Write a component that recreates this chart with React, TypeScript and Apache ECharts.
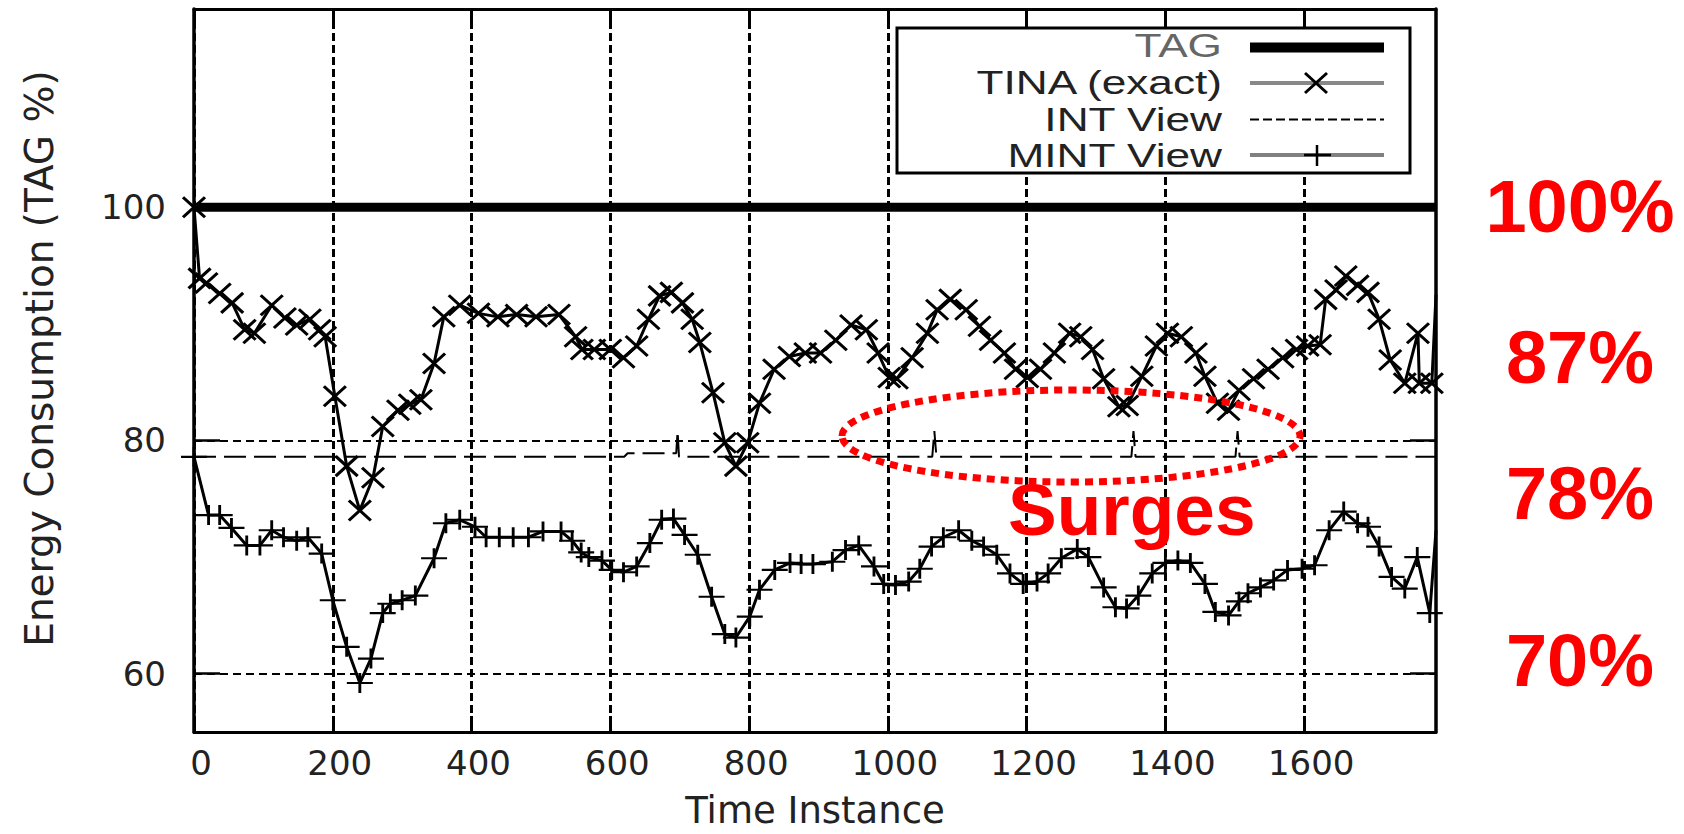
import React, { useEffect, useRef } from "react";
import * as echarts from "echarts";

const xTicks = [0, 200, 400, 600, 800, 1000, 1200, 1400, 1600];
const yTicks = [60, 80, 100];

const tagData = [[0, 100], [1790, 100]];

const tinaData: number[][] = [
  [0, 100], [8, 93.9], [18, 93.5], [37, 92.6], [55, 91.8], [73, 89.5], [87, 89.2], [112, 91.6],
  [131, 90.5], [148, 89.9], [167, 90.4], [181, 89.5], [189, 88.9], [203, 83.8], [220, 77.8],
  [239, 74.0], [258, 76.8], [272, 81.2], [294, 82.6], [311, 83.1], [327, 83.5], [346, 86.6],
  [360, 90.6], [383, 91.6], [410, 90.9], [438, 90.6], [465, 90.8], [493, 90.6], [526, 90.8],
  [550, 88.9], [559, 87.8], [577, 87.8], [600, 87.8], [619, 87.1], [638, 88.1], [655, 90.4],
  [671, 92.4], [688, 92.7], [704, 91.8], [718, 90.4], [729, 88.4], [748, 84.1], [765, 79.8],
  [781, 77.8], [798, 79.8], [815, 83.2], [836, 86.1], [858, 87.2], [881, 87.5], [903, 87.5],
  [925, 88.6], [947, 89.9], [969, 89.5], [986, 87.5], [1002, 85.4], [1013, 85.3], [1035, 87.1],
  [1057, 89.2], [1071, 91.2], [1090, 92.1], [1113, 91.2], [1132, 89.8], [1148, 88.6],
  [1168, 87.5], [1184, 86.1], [1201, 85.4], [1220, 86.1], [1240, 87.5], [1262, 89.2],
  [1278, 88.9], [1295, 87.8], [1311, 85.3], [1333, 82.9], [1345, 83.0], [1366, 85.5],
  [1387, 88.1], [1403, 89.2], [1423, 88.9], [1444, 87.5], [1457, 85.5], [1475, 83.2],
  [1491, 82.6], [1506, 84.3], [1527, 85.3], [1548, 86.1], [1569, 87.1], [1589, 87.8],
  [1605, 88.1], [1623, 88.2], [1631, 92.1], [1646, 92.9], [1660, 94.1], [1677, 93.3],
  [1692, 92.7], [1708, 90.4], [1724, 86.9], [1745, 84.9], [1764, 89.2], [1766, 84.9],
  [1784, 84.9]
];
const tinaTail = [1790, 92.5];

const intData: number[][] = [
  [0, 78.6], [620, 78.6], [625, 78.9], [695, 78.9], [697, 80.8], [699, 78.6], [1064, 78.6],
  [1067, 80.8], [1070, 78.6], [1351, 78.6], [1354, 80.8], [1357, 78.6], [1501, 78.6],
  [1504, 80.8], [1507, 78.6], [1790, 78.6]
];

const mintData: number[][] = [
  [0, 78.6], [21, 73.6], [37, 73.6], [54, 72.5], [76, 71.0], [95, 71.0], [112, 72.3], [129, 71.7],
  [148, 71.4], [164, 71.7], [184, 70.3], [200, 66.3], [220, 62.3], [239, 59.2], [255, 61.3],
  [272, 65.2], [283, 66.0], [300, 66.3], [319, 66.7], [346, 69.9], [363, 72.9], [383, 73.2],
  [405, 72.6], [421, 71.7], [440, 71.7], [460, 71.7], [482, 71.7], [503, 72.2], [529, 72.2],
  [545, 71.4], [558, 70.4], [569, 70.0], [588, 69.7], [602, 68.9], [619, 68.7], [638, 69.2],
  [657, 71.2], [674, 73.2], [691, 73.3], [707, 71.9], [726, 70.2], [746, 66.6], [765, 63.4],
  [781, 63.1], [801, 64.9], [815, 67.2], [837, 68.9], [859, 69.5], [875, 69.4], [892, 69.4],
  [920, 69.6], [939, 70.6], [958, 71.0], [980, 69.2], [994, 67.7], [1011, 67.6], [1030, 67.9],
  [1046, 69.0], [1063, 70.9], [1080, 71.7], [1102, 72.3], [1121, 71.4], [1138, 70.9],
  [1157, 70.2], [1176, 68.6], [1195, 67.7], [1215, 67.9], [1231, 68.6], [1250, 69.9],
  [1273, 70.7], [1289, 70.0], [1311, 67.4], [1328, 65.7], [1344, 65.6], [1361, 66.7],
  [1381, 68.6], [1400, 69.5], [1418, 69.7], [1436, 69.5], [1457, 67.7], [1472, 65.3],
  [1491, 65.0], [1506, 66.2], [1519, 66.9], [1537, 67.4], [1556, 68.0], [1576, 68.9],
  [1597, 69.0], [1615, 69.3], [1636, 72.3], [1657, 73.9], [1677, 72.9], [1692, 72.6],
  [1708, 70.9], [1726, 68.3], [1745, 67.3], [1763, 70.0], [1781, 65.2]
];
const mintTail = [1790, 72.3];

const legendNames = ["TAG", "TINA (exact)", "INT View", "MINT View"];
const sideLabels = ["100%", "87%", "78%", "70%"];
const annotation = "Surges";

const X_SYMBOL = "path://M0,0L10,10M10,0L0,10";
const PLUS_SYMBOL = "path://M5,0L5,10M0,5L10,5";

export default function App() {
  const ref = useRef<HTMLDivElement>(null);
  useEffect(() => {
    if (!ref.current) return;
    const chart = echarts.init(ref.current, null, { renderer: "svg" });
    const tickFont = { fontFamily: "DejaVu Sans", fontSize: 34, color: "#222" };
    const plain = (v: number) => String(v);
    const legendRows = [44.5, 82, 118.5, 154.5];
    const sideY = [206.5, 357.5, 493.5, 660];
    const graphic: any[] = [
      {
        type: "rect", z: 50, silent: true,
        shape: { x: 897, y: 28, width: 513, height: 145 },
        style: { fill: "#fff", stroke: "#000", lineWidth: 3 }
      },
      ...legendNames.map((n, i) => ({
        type: "text", z: 51, silent: true, x: 1222, y: legendRows[i], scaleX: 1.3,
        style: {
          text: n, fontFamily: "Liberation Sans", fontSize: 34,
          fill: i === 0 ? "#666" : "#222",
          align: "right", verticalAlign: "middle", textAlign: "right", textVerticalAlign: "middle"
        }
      })),
      { type: "line", z: 51, silent: true, shape: { x1: 1250, y1: 47.5, x2: 1384, y2: 47.5 }, style: { stroke: "#000", lineWidth: 10 } },
      { type: "line", z: 51, silent: true, shape: { x1: 1250, y1: 83, x2: 1384, y2: 83 }, style: { stroke: "#888", lineWidth: 4 } },
      { type: "line", z: 52, silent: true, shape: { x1: 1305, y1: 73, x2: 1327, y2: 93 }, style: { stroke: "#000", lineWidth: 3 } },
      { type: "line", z: 52, silent: true, shape: { x1: 1327, y1: 73, x2: 1305, y2: 93 }, style: { stroke: "#000", lineWidth: 3 } },
      { type: "line", z: 51, silent: true, shape: { x1: 1250, y1: 119.5, x2: 1384, y2: 119.5 }, style: { stroke: "#000", lineWidth: 2, lineDash: [9, 4] } },
      { type: "line", z: 51, silent: true, shape: { x1: 1250, y1: 155, x2: 1384, y2: 155 }, style: { stroke: "#808080", lineWidth: 4 } },
      { type: "line", z: 52, silent: true, shape: { x1: 1317, y1: 145, x2: 1317, y2: 166 }, style: { stroke: "#000", lineWidth: 2.5 } },
      { type: "line", z: 52, silent: true, shape: { x1: 1304, y1: 155, x2: 1331, y2: 155 }, style: { stroke: "#000", lineWidth: 2.5 } },
      ...sideLabels.map((t, i) => ({
        type: "text", z: 60, silent: true, x: 1580, y: sideY[i],
        style: {
          text: t, fontFamily: "Liberation Sans", fontWeight: "bold", fontSize: 74, fill: "#ff0000",
          align: "center", verticalAlign: "middle", textAlign: "center", textVerticalAlign: "middle"
        }
      })),
      {
        type: "ellipse", z: 60, silent: true,
        shape: { cx: 1071, cy: 436, rx: 229, ry: 46 },
        style: { fill: "none", stroke: "#ff0000", lineWidth: 7, lineDash: [8, 6] }
      },
      {
        type: "text", z: 60, silent: true, x: 1008, y: 509,
        style: {
          text: annotation, fontFamily: "Liberation Sans", fontWeight: "bold", fontSize: 73, fill: "#ff0000",
          align: "left", verticalAlign: "middle", textAlign: "left", textVerticalAlign: "middle"
        }
      }
    ];

    const option: any = {
      animation: false,
      grid: { left: 194, right: 248, top: 9, bottom: 102, containLabel: false, outerBoundsMode: "none" },
      xAxis: [
        {
          type: "value", min: 0, max: 1790, position: "bottom",
          name: "Time Instance", nameLocation: "middle", nameGap: 60,
          nameTextStyle: { fontFamily: "DejaVu Sans", fontSize: 37, color: "#222" },
          axisLine: { show: true, onZero: false, lineStyle: { color: "#000", width: 3 } },
          axisTick: { show: true, inside: true, length: 16, customValues: xTicks, lineStyle: { color: "#000", width: 3 } },
          axisLabel: { ...tickFont, customValues: xTicks, formatter: plain, margin: 14, padding: [0, 0, 0, 14] },
          splitLine: { show: true, lineStyle: { color: "#000", width: 3, type: [8, 4] } }
        },
        {
          type: "value", min: 0, max: 1790, position: "top",
          axisLine: { show: true, onZero: false, lineStyle: { color: "#000", width: 3 } },
          axisTick: { show: true, inside: true, length: 16, customValues: xTicks, lineStyle: { color: "#000", width: 3 } },
          axisLabel: { show: false },
          splitLine: { show: false }
        }
      ],
      yAxis: [
        {
          type: "value", min: 55, max: 117, position: "left",
          name: "Energy Consumption (TAG %)", nameLocation: "middle", nameGap: 135, nameRotate: 90,
          nameTextStyle: { fontFamily: "DejaVu Sans", fontSize: 39, color: "#222", padding: [0, 0, 0, 24] },
          axisLine: { show: true, onZero: false, lineStyle: { color: "#000", width: 3.5 } },
          axisTick: { show: true, inside: true, length: 26, customValues: yTicks, lineStyle: { color: "#000", width: 2.5 } },
          axisLabel: { ...tickFont, customValues: yTicks, formatter: plain, margin: 28 },
          splitLine: { show: true, lineStyle: { color: "#000", width: 2, type: [8, 5] } }
        },
        {
          type: "value", min: 55, max: 117, position: "right",
          axisLine: { show: true, onZero: false, lineStyle: { color: "#000", width: 3.5 } },
          axisTick: { show: true, inside: true, length: 26, customValues: yTicks, lineStyle: { color: "#000", width: 2.5 } },
          axisLabel: { show: false },
          splitLine: { show: false }
        }
      ],
      series: [
        {
          name: "INT View", type: "line", xAxisIndex: 0, yAxisIndex: 0, data: intData,
          symbol: "none", silent: true, z: 2,
          lineStyle: { color: "#000", width: 2, type: [22, 8] }
        },
        {
          name: "MINT View", type: "line", xAxisIndex: 0, yAxisIndex: 0,
          data: [...mintData, { value: mintTail, symbol: "none" }],
          symbol: PLUS_SYMBOL, symbolSize: [26, 20], silent: true, z: 3,
          itemStyle: { color: "#000", borderColor: "#000", borderWidth: 2.5 },
          lineStyle: { color: "#000", width: 3 }
        },
        {
          name: "TINA (exact)", type: "line", xAxisIndex: 0, yAxisIndex: 0,
          data: [...tinaData, { value: tinaTail, symbol: "none" }],
          symbol: X_SYMBOL, symbolSize: [22, 20], silent: true, z: 4,
          itemStyle: { color: "#000", borderColor: "#000", borderWidth: 3 },
          lineStyle: { color: "#000", width: 3 }
        },
        {
          name: "TAG", type: "line", xAxisIndex: 0, yAxisIndex: 0, data: tagData,
          symbol: "none", silent: true, z: 3,
          lineStyle: { color: "#000", width: 9 }
        }
      ],
      graphic
    };
    chart.setOption(option);
    return () => chart.dispose();
  }, []);
  return (
    <div
      ref={ref}
      style={{ position: "absolute", left: 0, top: 0, width: 1684, height: 834, background: "#fff" }}
    />
  );
}
